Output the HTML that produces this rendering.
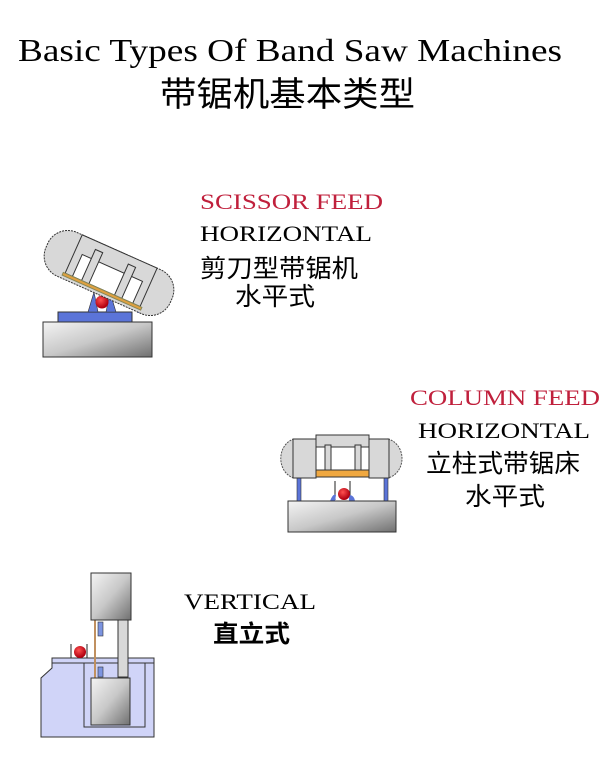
<!DOCTYPE html>
<html><head><meta charset="utf-8"><style>
html,body{margin:0;padding:0;background:#fff;}
svg{display:block;}
.t{font-family:"Liberation Serif","Noto Serif CJK SC",serif;}
.c{font-family:"Liberation Serif","Noto Sans CJK SC",sans-serif;}
</style></head><body>
<svg width="602" height="768" viewBox="0 0 602 768" xmlns="http://www.w3.org/2000/svg">
<defs>
<linearGradient id="g" x1="0" y1="0" x2="1" y2="1">
<stop offset="0" stop-color="#f4f4f4"/><stop offset="0.5" stop-color="#c8c8c8"/><stop offset="1" stop-color="#707070"/>
</linearGradient>
<radialGradient id="r" cx="0.4" cy="0.35" r="0.6"><stop offset="0" stop-color="#ff5050"/><stop offset="1" stop-color="#b00010"/></radialGradient>
</defs>
<text class="t" x="18" y="61" font-size="32" textLength="544" lengthAdjust="spacingAndGlyphs">Basic Types Of Band Saw Machines</text>
<text class="c" x="160" y="106" font-size="34" textLength="255" lengthAdjust="spacingAndGlyphs">带锯机基本类型</text>

<text class="t" x="200" y="209" font-size="22" fill="#c0203c" textLength="183" lengthAdjust="spacingAndGlyphs">SCISSOR FEED</text>
<text class="t" x="200" y="241" font-size="22" textLength="172" lengthAdjust="spacingAndGlyphs">HORIZONTAL</text>
<text class="c" x="200" y="277" font-size="25" textLength="158" lengthAdjust="spacingAndGlyphs">剪刀型带锯机</text>
<text class="c" x="235" y="305" font-size="25" textLength="80" lengthAdjust="spacingAndGlyphs">水平式</text>

<text class="t" x="410" y="405" font-size="22" fill="#c0203c" textLength="190" lengthAdjust="spacingAndGlyphs">COLUMN FEED</text>
<text class="t" x="418" y="438" font-size="22" textLength="172" lengthAdjust="spacingAndGlyphs">HORIZONTAL</text>
<text class="c" x="426" y="472" font-size="25" textLength="154" lengthAdjust="spacingAndGlyphs">立柱式带锯床</text>
<text class="c" x="465" y="505" font-size="25" textLength="80" lengthAdjust="spacingAndGlyphs">水平式</text>

<text class="t" x="184" y="609" font-size="22" textLength="132" lengthAdjust="spacingAndGlyphs">VERTICAL</text>
<text class="c" x="213" y="642" font-size="24" font-weight="bold" textLength="77" lengthAdjust="spacingAndGlyphs">直立式</text>

<!-- scissor -->
<rect x="43" y="322" width="109" height="35" fill="url(#g)" stroke="#333"/>
<rect x="58" y="312" width="74" height="10" fill="#5b74d8" stroke="#333"/>
<polygon points="88,312 94,292 98,312" fill="#5b74d8" stroke="#333" stroke-width="0.6"/>
<polygon points="106,312 110,292 116,312" fill="#5b74d8" stroke="#333" stroke-width="0.6"/>
<circle cx="102" cy="302" r="6.5" fill="url(#r)"/>
<path d="M137 313 l6 -6 l3 6 z" fill="#5b74d8"/>
<g transform="translate(1 3) rotate(24 108 270)">
<rect x="40" y="246" width="136" height="48" rx="22" fill="#d8d8d8" stroke="#333" stroke-dasharray="2,1"/>
<rect x="68" y="246" width="82" height="42" fill="#d8d8d8" stroke="#333"/>
<rect x="76" y="264" width="66" height="24" fill="#fff" stroke="#333"/>
<rect x="86" y="254" width="8" height="34" fill="#d8d8d8" stroke="#333"/>
<rect x="122" y="254" width="8" height="34" fill="#d8d8d8" stroke="#333"/>
<rect x="66" y="288" width="86" height="3" fill="#e0a040" stroke="#885"/>
</g>

<!-- column -->
<rect x="297" y="477" width="4" height="25" fill="#5b74d8" stroke="#333" stroke-width="0.6"/>
<rect x="384" y="477" width="4" height="25" fill="#5b74d8" stroke="#333" stroke-width="0.6"/>
<path d="M294 439 A17 20 0 0 0 294 478 Z" fill="#d8d8d8" stroke="#555" stroke-dasharray="2,1"/>
<path d="M388 439 A18 20 0 0 1 388 478 Z" fill="#d8d8d8" stroke="#555" stroke-dasharray="2,1"/>
<rect x="293" y="439" width="23" height="39" fill="#d8d8d8" stroke="#333"/>
<rect x="369" y="439" width="20" height="39" fill="#d8d8d8" stroke="#333"/>
<rect x="316" y="435" width="53" height="35" fill="#d8d8d8" stroke="#333"/>
<rect x="316" y="447" width="53" height="23" fill="#fff" stroke="#333"/>
<rect x="325" y="445" width="6" height="28" fill="#d8d8d8" stroke="#333"/>
<rect x="355" y="445" width="6" height="28" fill="#d8d8d8" stroke="#333"/>
<rect x="316" y="470" width="53" height="7" fill="#f0a840" stroke="#333"/>
<line x1="335" y1="481" x2="335" y2="500" stroke="#222"/><line x1="350" y1="481" x2="350" y2="500" stroke="#222"/>
<path d="M330 501 q3 -8 6 -6 l-1 6z M349 495 q5 0 6 6 l-6 0z" fill="#5b74d8"/>
<circle cx="344" cy="494" r="6" fill="url(#r)"/>
<rect x="288" y="501" width="108" height="31" fill="url(#g)" stroke="#333"/>

<!-- vertical -->
<path d="M52 663 L154 663 L154 737 L41 737 L41 678 L52 668 Z" fill="#d0d4f8" stroke="#333"/>
<path d="M84 663 L145 663 L145 727 L84 727 Z" fill="#d0d4f8" stroke="#333"/>
<rect x="52" y="658" width="102" height="5" fill="#d0d4f8" stroke="#333"/>
<rect x="118" y="620" width="10" height="57" fill="#d8d8d8" stroke="#333"/>
<rect x="94" y="620" width="2" height="58" fill="#c09060"/>
<rect x="98" y="622" width="5" height="14" fill="#7c94e0" stroke="#333" stroke-width="0.6"/>
<rect x="98" y="667" width="5" height="10" fill="#7c94e0" stroke="#333" stroke-width="0.6"/>
<rect x="91" y="573" width="40" height="47" fill="url(#g)" stroke="#333"/>
<rect x="91" y="678" width="39" height="47" fill="url(#g)" stroke="#333"/>
<line x1="71" y1="644" x2="71" y2="658" stroke="#222"/><line x1="87" y1="644" x2="87" y2="658" stroke="#222"/>
<circle cx="80" cy="652" r="6" fill="url(#r)"/>
</svg>
</body></html>
